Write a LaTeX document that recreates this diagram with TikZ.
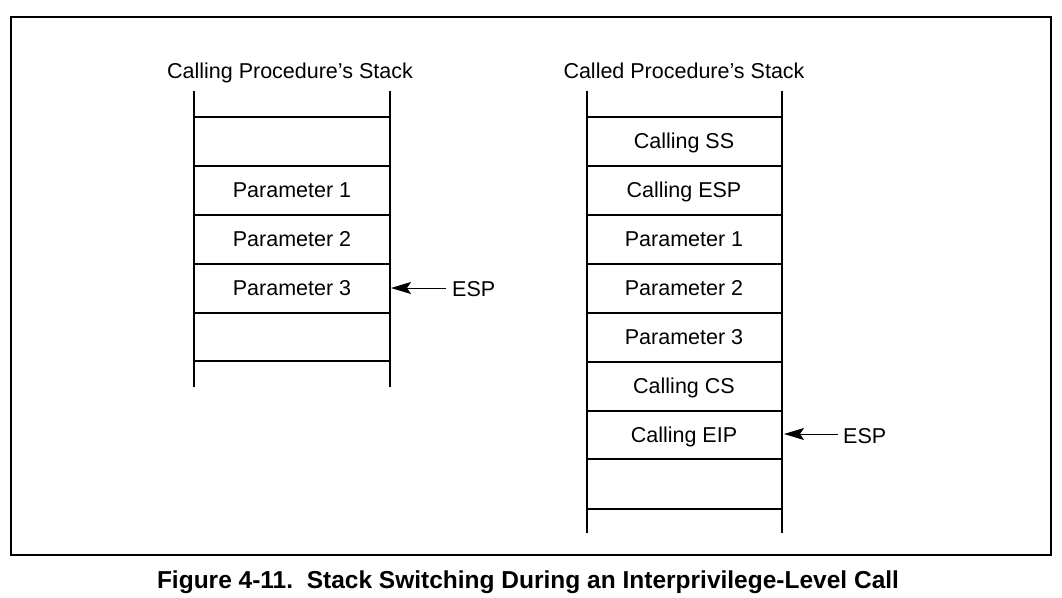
\documentclass[tikz,border=0pt]{standalone}
\usepackage{fontspec}
\setmainfont{Liberation Sans}
\usetikzlibrary{arrows.meta}
\tikzset{
  frame/.style={line width=2pt},
  wall/.style={line width=2pt},
  sep/.style={line width=1.1pt},
  celltext/.style={anchor=base, inner sep=0pt, font=\fontsize{21.5}{24}\selectfont},
  ptr/.style={line width=1pt, -{Stealth[length=20pt,width=12pt,inset=4pt]}},
  caption/.style={anchor=base, inner sep=0pt, font=\fontsize{24.5}{28}\selectfont\bfseries}
}
\begin{document}
\begin{tikzpicture}[x=1pt,y=-1pt]
\useasboundingbox (0,0) rectangle (1062,597);
\draw[frame] (11,17) rectangle (1051,555);
% left stack
\coordinate (LTL) at (194,91); \coordinate (LBL) at (194,387);
\coordinate (LTR) at (390,91); \coordinate (LBR) at (390,387);
\draw[wall] (LTL) -- (LBL); \draw[wall] (LTR) -- (LBR);
\foreach \y in {117,166,215,264,313,361} \draw[sep] (194,\y) -- (390,\y);
\node[celltext] (ltitle) at (290,78) {Calling Procedure’s Stack};
\node[celltext] (lp1) at (292,197.5) {Parameter 1};
\node[celltext] (lp2) at (292,246.5) {Parameter 2};
\node[celltext] (lp3) at (292,295.5) {Parameter 3};
\coordinate (lwall) at (391,288);
\node[celltext, anchor=base west] (lesp) at (452,296) {ESP};
\draw[ptr] (446,288) -- (lwall);
% right stack
\coordinate (RTL) at (587,91); \coordinate (RBL) at (587,533);
\coordinate (RTR) at (782,91); \coordinate (RBR) at (782,533);
\draw[wall] (RTL) -- (RBL); \draw[wall] (RTR) -- (RBR);
\foreach \y in {117,166,215,264,313,362,411,459,509} \draw[sep] (587,\y) -- (782,\y);
\node[celltext] (rtitle) at (684,78) {Called Procedure’s Stack};
\node[celltext] (rss) at (684,148.5) {Calling SS};
\node[celltext] (resp) at (684,197.5) {Calling ESP};
\node[celltext] (rp1) at (684,246.5) {Parameter 1};
\node[celltext] (rp2) at (684,295.5) {Parameter 2};
\node[celltext] (rp3) at (684,344.5) {Parameter 3};
\node[celltext] (rcs) at (684,393.5) {Calling CS};
\node[celltext] (reip) at (684,442) {Calling EIP};
\coordinate (rwall) at (784,434);
\node[celltext, anchor=base west] (resp2) at (843,443) {ESP};
\draw[ptr] (838,434) -- (rwall);
% caption
\node[caption] (cap) at (528,588) {Figure 4-11.\ \ Stack Switching During an Interprivilege-Level Call};
\end{tikzpicture}
\end{document}
